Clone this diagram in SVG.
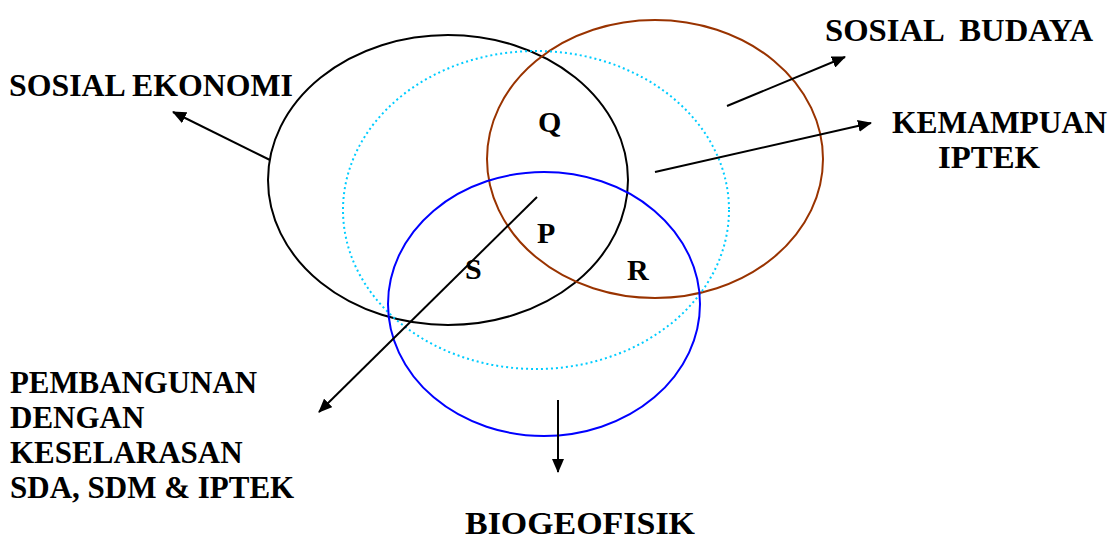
<svg xmlns="http://www.w3.org/2000/svg" width="1115" height="541" viewBox="0 0 1115 541">
<style>
text{font-weight:bold;font-size:31px;fill:#000}
.l{font-size:30px}
.c{fill:none;stroke-width:2}
.a{stroke:#000;stroke-width:2;fill:none;marker-end:url(#ah)}
</style>
<defs>
<marker id="ah" markerWidth="14" markerHeight="12" refX="13" refY="6" orient="auto" markerUnits="userSpaceOnUse">
<path d="M0,0 L14,6 L0,12 Z" fill="#000"/>
</marker>
</defs>
<rect width="1115" height="541" fill="#fff"/>
<g id="sosial-ekonomi-circle"><ellipse class="c" cx="448" cy="180" rx="180" ry="145" stroke="#000"/></g>
<g id="sosial-budaya-circle"><ellipse class="c" cx="655" cy="159" rx="168" ry="139" stroke="#993300"/></g>
<g id="iptek-circle"><ellipse class="c" cx="536" cy="210" rx="193" ry="159" stroke="#00ccff" stroke-dasharray="2 3"/></g>
<g id="biogeofisik-circle"><ellipse class="c" cx="544" cy="304" rx="156" ry="132" stroke="#0000ff"/></g>
<g id="connectors">
<line class="a" x1="270" y1="160" x2="173" y2="112"/>
<line class="a" x1="537" y1="197" x2="319" y2="412"/>
<line class="a" x1="558" y1="400" x2="558" y2="472"/>
<line class="a" x1="727" y1="106" x2="845" y2="57"/>
<line class="a" x1="655" y1="172" x2="871" y2="123"/>
</g>
<g id="labels" font-family="Liberation Serif, Times New Roman, serif">
<text x="9" y="96" textLength="284" lengthAdjust="spacingAndGlyphs">SOSIAL EKONOMI</text>
<text x="825" y="41" xml:space="preserve" textLength="268" lengthAdjust="spacingAndGlyphs">SOSIAL  BUDAYA</text>
<text x="892" y="133" textLength="215" lengthAdjust="spacingAndGlyphs">KEMAMPUAN</text>
<text x="938" y="168" textLength="102" lengthAdjust="spacingAndGlyphs">IPTEK</text>
<text class="l" x="538" y="132">Q</text>
<text class="l" x="537" y="243">P</text>
<text class="l" x="465" y="279">S</text>
<text class="l" x="627" y="280">R</text>
<text x="10" y="393" textLength="247" lengthAdjust="spacingAndGlyphs">PEMBANGUNAN</text>
<text x="10" y="428">DENGAN</text>
<text x="10" y="463">KESELARASAN</text>
<text x="10" y="498">SDA, SDM &amp; IPTEK</text>
<text x="465" y="534" textLength="230" lengthAdjust="spacingAndGlyphs">BIOGEOFISIK</text>
</g>
</svg>
